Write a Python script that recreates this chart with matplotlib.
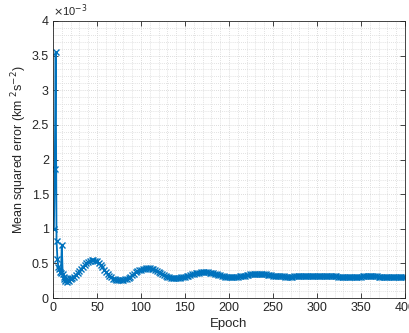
import matplotlib
matplotlib.use('Agg')
import matplotlib.pyplot as plt
import matplotlib.ticker as ticker
import numpy as np

# ── Data (MSE in units of 1e-3 km^2 s^-2) ─────────────────────────────────────
epochs = list(range(1, 21)) + list(range(22, 401, 2))
mse_e3 = [
    1.00, 1.87, 3.55, 0.83, 0.57, 0.45, 0.42, 0.38, 0.36, 0.76,
    0.35, 0.30, 0.27, 0.24, 0.28, 0.23, 0.26, 0.25, 0.29, 0.27,
    # 22 .. 400 step 2
    0.29, 0.31, 0.33, 0.36, 0.39, 0.42, 0.45, 0.47, 0.50, 0.52,
    0.54, 0.55, 0.55, 0.54, 0.53, 0.51, 0.48, 0.45, 0.41, 0.38,
    0.35, 0.32, 0.30, 0.28, 0.27, 0.265, 0.26, 0.26, 0.26, 0.265,
    0.27, 0.28, 0.295, 0.31, 0.33, 0.35, 0.37, 0.385, 0.40, 0.41,
    0.42, 0.425, 0.43, 0.43, 0.43, 0.425, 0.415, 0.40, 0.39, 0.375,
    0.36, 0.345, 0.33, 0.315, 0.305, 0.30, 0.295, 0.29, 0.29, 0.29,
    0.29, 0.295, 0.30, 0.305, 0.31, 0.32, 0.325, 0.335, 0.34, 0.35,
    0.355, 0.36, 0.365, 0.37, 0.37, 0.37, 0.37, 0.37, 0.365, 0.36,
    0.355, 0.35, 0.34, 0.335, 0.33, 0.32, 0.315, 0.31, 0.31, 0.305,
    0.305, 0.305, 0.305, 0.31, 0.31, 0.315, 0.32, 0.32, 0.325, 0.33,
    0.335, 0.34, 0.34, 0.345, 0.345, 0.345, 0.345, 0.345, 0.345, 0.34,
    0.34, 0.335, 0.335, 0.33, 0.325, 0.325, 0.32, 0.32, 0.315, 0.315,
    0.315, 0.31, 0.31, 0.31, 0.31, 0.31, 0.315, 0.315, 0.315, 0.32,
    0.32, 0.32, 0.325, 0.325, 0.325, 0.325, 0.325, 0.325, 0.325, 0.325,
    0.325, 0.325, 0.325, 0.32, 0.32, 0.32, 0.32, 0.315, 0.315, 0.315,
    0.315, 0.31, 0.31, 0.31, 0.31, 0.31, 0.31, 0.31, 0.31, 0.31,
    0.31, 0.31, 0.31, 0.31, 0.31, 0.315, 0.315, 0.315, 0.315, 0.315,
    0.315, 0.315, 0.315, 0.315, 0.31, 0.31, 0.31, 0.31, 0.31, 0.31,
    0.31, 0.31, 0.31, 0.305, 0.305, 0.305, 0.305, 0.305, 0.305, 0.305,
]
mse = np.array(mse_e3) * 1e-3

# ── Plot ───────────────────────────────────────────────────────────────────────
plt.rcParams['font.family'] = ['Liberation Sans', 'DejaVu Sans']
TXT = '#262626'

fig = plt.figure(figsize=(4.09, 3.33), dpi=100)
ax = fig.add_axes([0.1296, 0.105, 0.8604, 0.832])

ax.plot(epochs, mse, color='#0072BD', linewidth=1.3, marker='x',
        markersize=5, markeredgewidth=1.0)

ax.set_xlim(0, 400)
ax.set_ylim(0, 4e-3)
ax.set_xticks(np.arange(0, 401, 50))
ax.set_yticks(np.arange(0, 4.01e-3, 0.5e-3))
ax.xaxis.set_minor_locator(ticker.MultipleLocator(10))
ax.yaxis.set_minor_locator(ticker.MultipleLocator(0.1e-3))
ax.yaxis.set_major_formatter(ticker.FuncFormatter(lambda v, p: f'{v * 1e3:g}'))

ax.grid(which='major', color='#d0d0d0', linewidth=0.6, linestyle=(0, (1, 1.5)))
ax.grid(which='minor', color='#d8d8d8', linewidth=0.6, linestyle=(0, (1, 1.5)))
ax.set_axisbelow(True)

ax.tick_params(which='major', direction='in', top=True, right=True,
               length=3.5, width=0.6, labelsize=9, colors=TXT, pad=3)
ax.tick_params(which='minor', length=0)
for s in ax.spines.values():
    s.set_color(TXT)
    s.set_linewidth(0.6)

ax.set_xlabel('Epoch', fontsize=9.5, color=TXT, labelpad=3)
ax.set_ylabel('Mean squared error (km $^2$s$^{-2}$)', fontsize=9,
              color=TXT)
ax.yaxis.set_label_coords(-0.068, 0.535)
ax.text(0.0, 1.008, r'$\times$10$^{-3}$', transform=ax.transAxes,
        fontsize=8, color=TXT, ha='left', va='bottom')

plt.savefig('out.png', dpi=100)
